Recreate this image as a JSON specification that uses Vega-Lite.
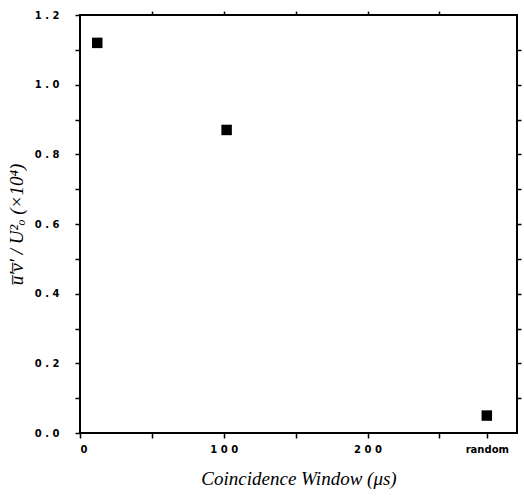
{
  "$schema": "https://vega.github.io/schema/vega-lite/v6.json",
  "autosize": "none",
  "width": 437,
  "height": 418,
  "padding": {"left": 80, "top": 15, "right": 7, "bottom": 67},
  "background": "white",
  "config": {
    "view": {"stroke": "black", "strokeWidth": 2},
    "axis": {"grid": false, "domain": false, "tickColor": "black", "tickWidth": 1.5, "tickSize": 5, "labelColor": "black", "titleColor": "black"}
  },
  "data": {"values": [
    {"window": 12, "uv": 1.12, "case": "10"},
    {"window": 102, "uv": 0.87, "case": "100"},
    {"window": 283, "uv": 0.05, "case": "random"}
  ]},
  "layer": [
    {
      "mark": {"type": "square", "size": 110, "color": "black", "opacity": 1},
      "encoding": {
        "x": {"field": "window", "type": "quantitative", "scale": {"domain": [0, 304], "nice": false},
          "axis": {"orient": "bottom", "values": [0, 50, 100, 150, 200, 250, 283],
            "labelExpr": "datum.value == 0 ? '0' : datum.value == 100 ? '1 0 0' : datum.value == 200 ? '2 0 0' : datum.value == 283 ? 'random' : ''",
            "labelFont": "DejaVu Sans", "labelFontWeight": "bold", "labelFontSize": 10, "labelPadding": 6,
            "title": "Coincidence  Window  (μs)", "titleFont": "Liberation Serif", "titleFontStyle": "italic", "titleFontWeight": "normal", "titleFontSize": 19, "titlePadding": 15}},
        "y": {"field": "uv", "type": "quantitative", "scale": {"domain": [0, 1.2], "nice": false},
          "axis": {"orient": "left", "values": [0, 0.1, 0.2, 0.3, 0.4, 0.5, 0.6, 0.7, 0.8, 0.9, 1.0, 1.1, 1.2],
            "labelExpr": "(round(datum.value*10) % 2 == 0) ? replace(format(datum.value, '.1f'), '.', ' . ') : ''",
            "labelFont": "DejaVu Sans", "labelFontWeight": "bold", "labelFontSize": 10, "labelPadding": 16,
            "title": "u̅′v̅′ / U²ₒ   (×10⁴)", "titleFont": "Liberation Serif", "titleFontStyle": "italic", "titleFontSize": 19, "titleFontWeight": "normal", "titlePadding": 8}}
      }
    },
    {
      "mark": {"type": "square", "size": 110, "color": "black", "opacity": 0},
      "encoding": {
        "x": {"field": "window", "type": "quantitative", "scale": {"domain": [0, 304], "nice": false},
          "axis": {"orient": "top", "values": [50, 100, 150, 200, 250], "labels": false, "title": null, "tickSize": 4}},
        "y": {"field": "uv", "type": "quantitative", "scale": {"domain": [0, 1.2], "nice": false},
          "axis": {"orient": "right", "values": [0.1, 0.2, 0.3, 0.4, 0.5, 0.6, 0.7, 0.8, 0.9, 1.0, 1.1], "labels": false, "title": null, "tickSize": 4}}
      }
    }
  ],
  "resolve": {"axis": {"x": "independent", "y": "independent"}}
}
